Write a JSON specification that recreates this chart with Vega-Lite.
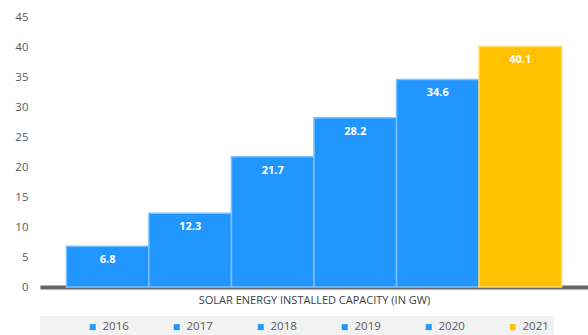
{
  "$schema": "https://vega.github.io/schema/vega-lite/v6.json",
  "width": 548,
  "height": 270,
  "autosize": "none",
  "padding": {"left": 40, "top": 17, "right": 0, "bottom": 48},
  "background": "white",
  "config": {"font": "Open Sans", "view": {"stroke": null}},
  "data": {"values": [
    {"year": "2016", "value": 6.8},
    {"year": "2017", "value": 12.3},
    {"year": "2018", "value": 21.7},
    {"year": "2019", "value": 28.2},
    {"year": "2020", "value": 34.6},
    {"year": "2021", "value": 40.1}
  ]},
  "encoding": {
    "x": {
      "field": "year", "type": "nominal",
      "scale": {"paddingInner": 0, "paddingOuter": 0.32},
      "axis": {
        "labels": false, "ticks": false,
        "domainColor": "#666666", "domainWidth": 4,
        "title": "SOLAR ENERGY INSTALLED CAPACITY (IN GW)",
        "titleFontSize": 11, "titleFontWeight": "normal", "titleColor": "#404040",
        "titlePadding": 7
      }
    },
    "y": {
      "field": "value", "type": "quantitative",
      "scale": {"domain": [0, 45], "nice": false},
      "axis": {
        "values": [0, 5, 10, 15, 20, 25, 30, 35, 40, 45],
        "domain": false, "ticks": false, "grid": false,
        "labelPadding": 12, "labelFontSize": 11.5, "labelColor": "#595959",
        "title": null
      }
    }
  },
  "layer": [
    {
      "mark": {"type": "bar", "strokeWidth": 1.5},
      "encoding": {
        "color": {
          "field": "year", "type": "nominal",
          "scale": {"domain": ["2016", "2017", "2018", "2019", "2020", "2021"],
                    "range": ["#2196FF", "#2196FF", "#2196FF", "#2196FF", "#2196FF", "#FFC000"]},
          "legend": {
            "orient": "none", "legendX": 0, "legendY": 299,
            "direction": "horizontal", "title": " ", "titleOrient": "left", "titlePadding": 42,
            "symbolType": "square", "symbolSize": 36, "symbolStrokeWidth": 0,
            "labelFontSize": 11.5, "labelColor": "#595959", "labelOffset": 4,
            "labelExpr": "datum.label == '2021' ? datum.label + '              ' : datum.label",
            "columnPadding": 42, "fillColor": "#F2F2F2", "padding": 5
          }
        },
        "stroke": {
          "field": "year", "type": "nominal",
          "scale": {"domain": ["2016", "2017", "2018", "2019", "2020", "2021"],
                    "range": ["#7DC0FF", "#7DC0FF", "#7DC0FF", "#7DC0FF", "#7DC0FF", "#FFD966"]},
          "legend": null
        }
      }
    },
    {
      "mark": {"type": "text", "color": "white", "fontWeight": "bold", "fontSize": 11, "baseline": "middle", "dy": 14},
      "encoding": {"text": {"field": "value", "type": "quantitative", "format": ".1f"}}
    }
  ]
}
